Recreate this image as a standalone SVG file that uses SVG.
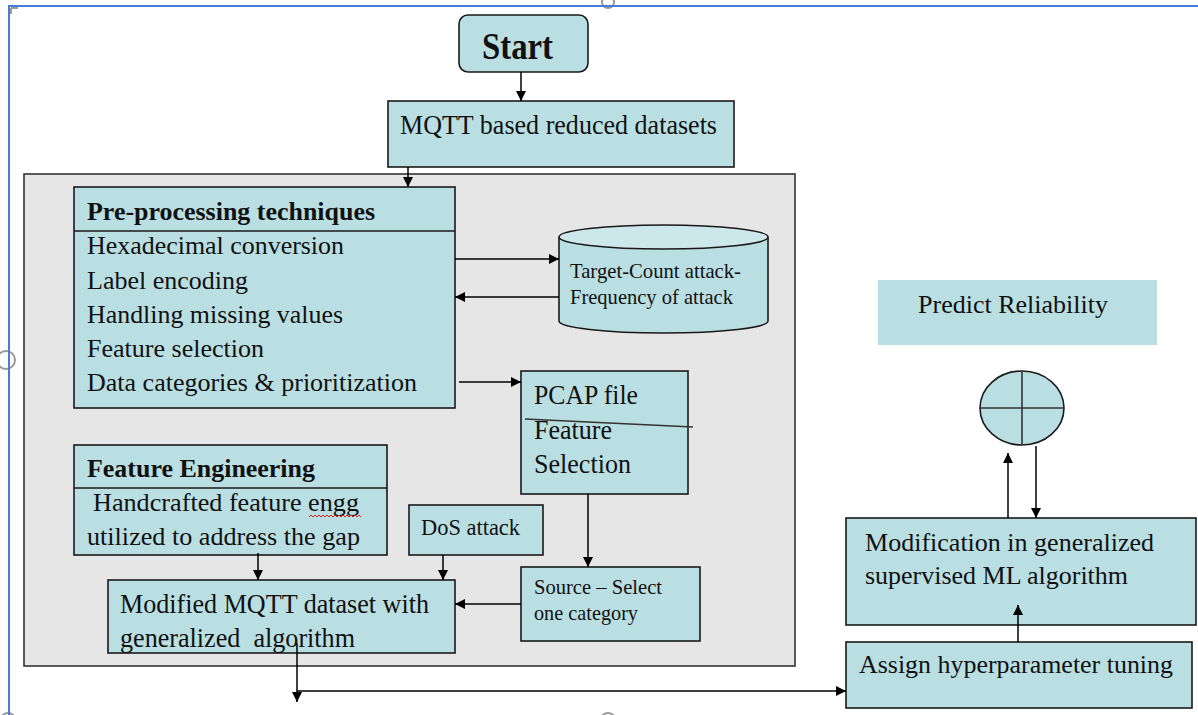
<svg xmlns="http://www.w3.org/2000/svg" width="1198" height="715" viewBox="0 0 1198 715">
  <defs>
    <marker id="arrow" viewBox="0 0 10 10" refX="10" refY="5" markerWidth="10" markerHeight="10" markerUnits="userSpaceOnUse" orient="auto">
      <path d="M0,0 L10,5 L0,10 Z" fill="#000"/>
    </marker>
    <style>
      .box { fill: #badfe3; stroke: #1a1a1a; stroke-width: 1.6; }
      .plain { fill: #badfe3; stroke: none; }
      .t { font-family: "Liberation Serif", "Times New Roman", serif; fill: #111; }
      .b { font-weight: bold; }
      .conn { stroke: #000; stroke-width: 1.5; fill: none; }
      .frame { stroke: #4a7bd8; stroke-width: 2; fill: none; }
      .handle { stroke: #9a9a9a; stroke-width: 2; fill: #fff; }
    </style>
  </defs>

  <rect width="1198" height="715" fill="#fff"/>

  <!-- canvas frame and resize handles -->
  <g id="frame">
    <circle class="handle" cx="608" cy="2" r="6"/>
    <circle class="handle" cx="6" cy="360" r="9"/>
    <circle class="handle" cx="608" cy="720" r="7"/>
    <circle class="handle" cx="8" cy="720" r="7"/>
    <path class="frame" d="M9,715 V6 H1198"/>
    <path d="M11,8 H18 M11,8 V14" stroke="#9a9a9a" stroke-width="2" fill="none"/>
  </g>

  <!-- grey processing area -->
  <rect id="processing-area" x="24" y="174" width="771" height="492" fill="#e6e6e6" stroke="#333" stroke-width="1.6"/>

  <g id="start">
    <rect class="box" x="459" y="15" width="129" height="57" rx="9"/>
    <text class="t b" x="482" y="59" font-size="38" textLength="71" lengthAdjust="spacingAndGlyphs">Start</text>
  </g>

  <g id="mqtt-datasets">
    <rect class="box" x="388" y="101" width="346" height="66"/>
    <text class="t" x="400" y="134" font-size="27" textLength="317" lengthAdjust="spacingAndGlyphs">MQTT based reduced datasets</text>
  </g>

  <g id="preprocessing">
    <rect class="box" x="74" y="187" width="381" height="221"/>
    <line x1="74" y1="231" x2="455" y2="231" stroke="#1a1a1a" stroke-width="1.6"/>
    <text class="t b" x="87" y="220" font-size="25" textLength="288" lengthAdjust="spacingAndGlyphs">Pre-processing techniques</text>
    <text class="t" x="87" y="254" font-size="26" textLength="257" lengthAdjust="spacingAndGlyphs">Hexadecimal conversion</text>
    <text class="t" x="87" y="289" font-size="26" textLength="161" lengthAdjust="spacingAndGlyphs">Label encoding</text>
    <text class="t" x="87" y="323" font-size="26" textLength="256" lengthAdjust="spacingAndGlyphs">Handling missing values</text>
    <text class="t" x="87" y="357" font-size="26" textLength="177" lengthAdjust="spacingAndGlyphs">Feature selection</text>
    <text class="t" x="87" y="391" font-size="26" textLength="330" lengthAdjust="spacingAndGlyphs">Data categories &amp; prioritization</text>
  </g>

  <g id="attack-store">
    <path class="box" d="M559,237 V321 A104.5,12 0 0 0 768,321 V237"/>
    <ellipse cx="663.5" cy="237" rx="104.5" ry="12" fill="#cde8eb" stroke="#1a1a1a" stroke-width="1.6"/>
    <text class="t" x="570" y="278" font-size="21" textLength="171" lengthAdjust="spacingAndGlyphs">Target-Count attack-</text>
    <text class="t" x="570" y="304" font-size="21" textLength="163" lengthAdjust="spacingAndGlyphs">Frequency of attack</text>
  </g>

  <g id="pcap">
    <rect class="box" x="521" y="371" width="167" height="123"/>
    <text class="t" x="534" y="404" font-size="27" textLength="104" lengthAdjust="spacingAndGlyphs">PCAP file</text>
    <line x1="525" y1="419" x2="693" y2="427" stroke="#333" stroke-width="1.4"/>
    <text class="t" x="534" y="439" font-size="27" textLength="78" lengthAdjust="spacingAndGlyphs">Feature</text>
    <text class="t" x="534" y="473" font-size="27" textLength="97" lengthAdjust="spacingAndGlyphs">Selection</text>
  </g>

  <g id="feature-engineering">
    <rect class="box" x="74" y="445" width="313" height="110"/>
    <line x1="74" y1="488" x2="387" y2="488" stroke="#1a1a1a" stroke-width="1.6"/>
    <text class="t b" x="87" y="477" font-size="26" textLength="228" lengthAdjust="spacingAndGlyphs">Feature Engineering</text>
    <text class="t" x="93" y="511" font-size="26" textLength="266" lengthAdjust="spacingAndGlyphs">Handcrafted feature engg</text>
    <path d="M309,517 l2,-2 l2,2 l2,-2 l2,2 l2,-2 l2,2 l2,-2 l2,2 l2,-2 l2,2 l2,-2 l2,2 l2,-2 l2,2 l2,-2 l2,2 l2,-2 l2,2 l2,-2 l2,2 l2,-2 l2,2 l2,-2 l2,2 l2,-2 l2,2" stroke="#d02020" stroke-width="1" fill="none"/>
    <text class="t" x="87" y="545" font-size="26" textLength="273" lengthAdjust="spacingAndGlyphs">utilized to address the gap</text>
  </g>

  <g id="dos-attack">
    <rect class="box" x="409" y="505" width="134" height="50"/>
    <text class="t" x="421" y="535" font-size="23" textLength="99" lengthAdjust="spacingAndGlyphs">DoS attack</text>
  </g>

  <g id="source-select">
    <rect class="box" x="521" y="567" width="179" height="74"/>
    <text class="t" x="534" y="594" font-size="22" textLength="128" lengthAdjust="spacingAndGlyphs">Source – Select</text>
    <text class="t" x="534" y="620" font-size="22" textLength="104" lengthAdjust="spacingAndGlyphs">one category</text>
  </g>

  <g id="modified-dataset">
    <rect class="box" x="108" y="580" width="347" height="73"/>
    <text class="t" x="120" y="613" font-size="27" textLength="309" lengthAdjust="spacingAndGlyphs">Modified MQTT dataset with</text>
    <text class="t" x="120" y="647" font-size="27" textLength="235" lengthAdjust="spacingAndGlyphs" style="white-space:pre">generalized  algorithm</text>
  </g>

  <g id="predict-reliability">
    <rect class="plain" x="878" y="280" width="279" height="65"/>
    <text class="t" x="918" y="313" font-size="25" textLength="190" lengthAdjust="spacingAndGlyphs">Predict Reliability</text>
  </g>

  <g id="combiner">
    <ellipse class="box" cx="1022" cy="408" rx="42" ry="37"/>
    <line x1="980" y1="408" x2="1064" y2="408" stroke="#333" stroke-width="1.6"/>
    <line x1="1022" y1="371" x2="1022" y2="445" stroke="#333" stroke-width="1.6"/>
  </g>

  <g id="ml-algorithm">
    <rect class="box" x="846" y="518" width="350" height="107"/>
    <text class="t" x="865" y="551" font-size="26" textLength="289" lengthAdjust="spacingAndGlyphs">Modification in generalized</text>
    <text class="t" x="865" y="584" font-size="26" textLength="263" lengthAdjust="spacingAndGlyphs">supervised ML algorithm</text>
  </g>

  <g id="hyperparameter-tuning">
    <rect class="box" x="846" y="642" width="346" height="66"/>
    <text class="t" x="859" y="673" font-size="26" textLength="314" lengthAdjust="spacingAndGlyphs">Assign hyperparameter tuning</text>
  </g>

  <g id="connectors">
    <line class="conn" x1="521" y1="72" x2="521" y2="101" marker-end="url(#arrow)"/>
    <line class="conn" x1="408" y1="167" x2="408" y2="187" marker-end="url(#arrow)"/>
    <line class="conn" x1="455" y1="259" x2="559" y2="259" marker-end="url(#arrow)"/>
    <line class="conn" x1="559" y1="297" x2="455" y2="297" marker-end="url(#arrow)"/>
    <line class="conn" x1="459" y1="382" x2="521" y2="382" marker-end="url(#arrow)"/>
    <line class="conn" x1="588" y1="494" x2="588" y2="567" marker-end="url(#arrow)"/>
    <line class="conn" x1="521" y1="604" x2="455" y2="604" marker-end="url(#arrow)"/>
    <line class="conn" x1="258" y1="553" x2="258" y2="580" marker-end="url(#arrow)"/>
    <line class="conn" x1="443" y1="555" x2="443" y2="580" marker-end="url(#arrow)"/>
    <line class="conn" x1="297" y1="643" x2="297" y2="702" marker-end="url(#arrow)"/>
    <line class="conn" x1="297" y1="691" x2="846" y2="691" marker-end="url(#arrow)"/>
    <line class="conn" x1="1018" y1="642" x2="1018" y2="605" marker-end="url(#arrow)"/>
    <line class="conn" x1="1008" y1="518" x2="1008" y2="453" marker-end="url(#arrow)"/>
    <line class="conn" x1="1036" y1="446" x2="1036" y2="518" marker-end="url(#arrow)"/>
  </g>
</svg>
